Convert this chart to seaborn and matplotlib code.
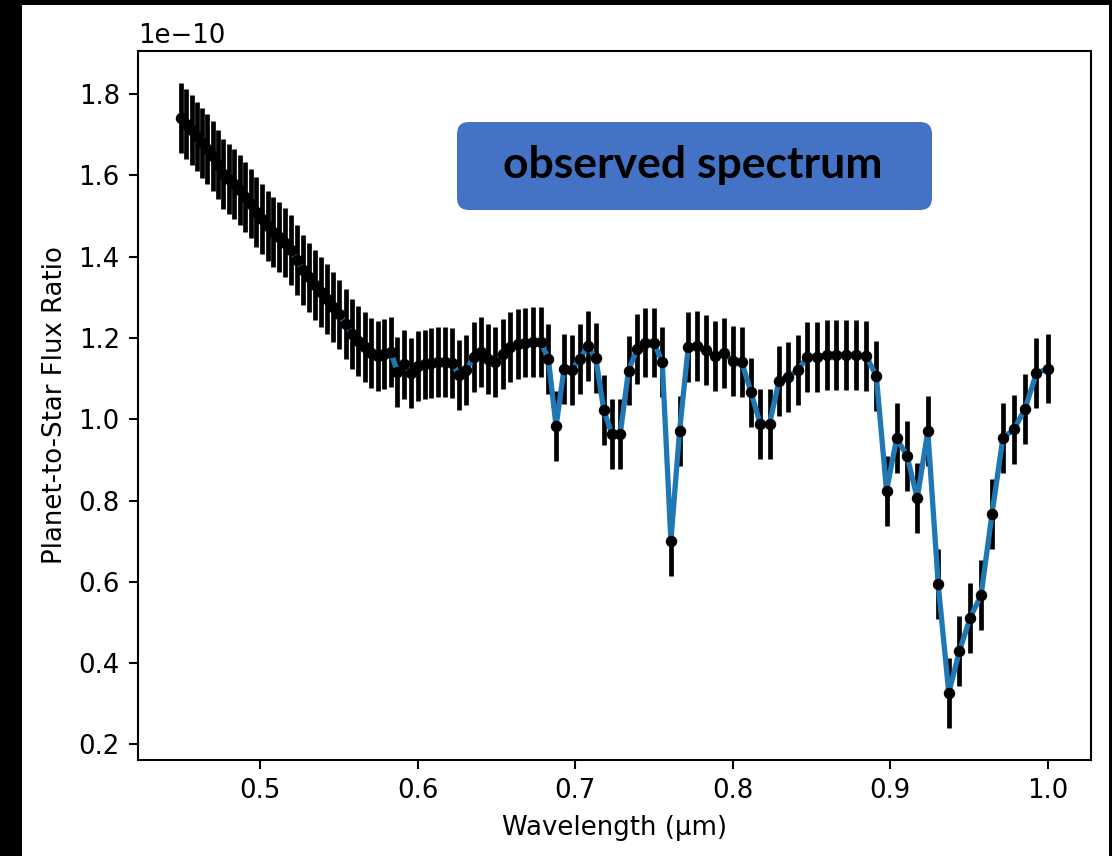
import matplotlib
matplotlib.use("Agg")
import matplotlib.pyplot as plt
from matplotlib.patches import Rectangle, FancyBboxPatch
from matplotlib.transforms import IdentityTransform
import numpy as np
import pandas as pd
import seaborn as sns

# ---------------- data (flux ratio in units of 1e-10) ----------------
wavelength = [
    0.4500, 0.4532, 0.4565, 0.4598, 0.4631, 0.4665, 0.4698, 0.4732, 0.4767, 0.4801,
    0.4836, 0.4871, 0.4906, 0.4941, 0.4977, 0.5013, 0.5049, 0.5085, 0.5122, 0.5159,
    0.5196, 0.5234, 0.5272, 0.5310, 0.5348, 0.5387, 0.5425, 0.5465, 0.5504, 0.5544,
    0.5584, 0.5624, 0.5665, 0.5706, 0.5747, 0.5788, 0.5830, 0.5872, 0.5915, 0.5957,
    0.6000, 0.6044, 0.6087, 0.6131, 0.6175, 0.6220, 0.6265, 0.6310, 0.6356, 0.6402,
    0.6448, 0.6494, 0.6541, 0.6588, 0.6636, 0.6684, 0.6732, 0.6781, 0.6830, 0.6879,
    0.6929, 0.6979, 0.7029, 0.7080, 0.7131, 0.7182, 0.7234, 0.7286, 0.7339, 0.7392,
    0.7445, 0.7499, 0.7553, 0.7608, 0.7663, 0.7718, 0.7774, 0.7830, 0.7886, 0.7943,
    0.8001, 0.8058, 0.8117, 0.8175, 0.8234, 0.8294, 0.8353, 0.8414, 0.8475, 0.8536,
    0.8597, 0.8659, 0.8722, 0.8785, 0.8848, 0.8912, 0.8977, 0.9041, 0.9107, 0.9172,
    0.9239, 0.9305, 0.9372, 0.9440, 0.9508, 0.9577, 0.9646, 0.9716, 0.9786, 0.9856,
    0.9928, 1.0000,
]
flux_ratio = [
    1.741, 1.726, 1.712, 1.696, 1.681, 1.666, 1.649, 1.627, 1.604, 1.591,
    1.580, 1.564, 1.548, 1.531, 1.511, 1.493, 1.476, 1.460, 1.449, 1.435,
    1.417, 1.392, 1.368, 1.349, 1.331, 1.313, 1.295, 1.277, 1.258, 1.234,
    1.209, 1.192, 1.177, 1.163, 1.155, 1.160, 1.165, 1.117, 1.135, 1.113,
    1.131, 1.135, 1.138, 1.140, 1.141, 1.138, 1.108, 1.121, 1.154, 1.166,
    1.149, 1.140, 1.160, 1.177, 1.185, 1.189, 1.190, 1.191, 1.149, 0.983,
    1.123, 1.122, 1.148, 1.180, 1.151, 1.023, 0.963, 0.963, 1.120, 1.172,
    1.189, 1.189, 1.142, 0.701, 0.971, 1.178, 1.181, 1.170, 1.156, 1.163,
    1.144, 1.141, 1.066, 0.989, 0.989, 1.094, 1.105, 1.121, 1.154, 1.154,
    1.158, 1.158, 1.158, 1.158, 1.155, 1.107, 0.824, 0.953, 0.910, 0.806,
    0.971, 0.594, 0.327, 0.430, 0.512, 0.567, 0.766, 0.955, 0.975, 1.026,
    1.113, 1.125,
]
flux_err = 0.086          # same uncertainty on every point (1e-10 units)
scale_exp = 1e-10

x_ticks = [0.5, 0.6, 0.7, 0.8, 0.9, 1.0]
y_ticks = [0.2, 0.4, 0.6, 0.8, 1.0, 1.2, 1.4, 1.6, 1.8]

x_label = "Wavelength (μm)"
y_label = "Planet-to-Star Flux Ratio"
banner_text = "observed spectrum"

# ---------------- style ----------------
S = 1.87
plt.rcParams.update({
    "font.family": ["DejaVu Sans"],
    "font.size": 10 * S,
    "axes.linewidth": 0.8 * S,
    "xtick.major.size": 3.5 * S,
    "ytick.major.size": 3.5 * S,
    "xtick.major.width": 0.8 * S,
    "ytick.major.width": 0.8 * S,
    "xtick.major.pad": 3.5 * S,
    "ytick.major.pad": 3.5 * S,
    "axes.labelpad": 4.0 * S,
})

W, H = 1112, 856
fig = plt.figure(figsize=(W / 100, H / 100), dpi=100, facecolor="black")
# white page inside the black screenshot frame
fig.patches.append(Rectangle((22 / W, 0), 1087 / W, 851 / H,
                             transform=fig.transFigure, facecolor="white",
                             edgecolor="none", zorder=-10))

ax = fig.add_axes([138 / W, (H - 760) / H, (1091 - 138) / W, (760 - 51) / H])
ax.set_facecolor("white")
ax.yaxis.OFFSETTEXTPAD = 3 * S

df = pd.DataFrame({"wl": wavelength,
                   "flux": np.array(flux_ratio) * scale_exp})

ax.errorbar(df["wl"], df["flux"], yerr=flux_err * scale_exp, fmt="none",
            ecolor="black", elinewidth=3.4, zorder=2)
sns.lineplot(data=df, x="wl", y="flux", ax=ax, color="#1f77b4",
             linewidth=3.8, zorder=3, sort=False)
sns.scatterplot(data=df, x="wl", y="flux", ax=ax, color="black", s=68,
                linewidth=0, zorder=4)

ax.set_xticks(x_ticks)
ax.set_yticks([v * scale_exp for v in y_ticks])
ax.set_xlabel(x_label)
ax.set_ylabel(y_label)

# blue banner
fig.patches.append(FancyBboxPatch((457, H - 210), 475, 88,
                                  boxstyle="round,pad=0,rounding_size=12",
                                  transform=IdentityTransform(),
                                  facecolor="#4472C4", edgecolor="none",
                                  zorder=5))
fig.text(692.5 / W, (H - 178) / H, banner_text, ha="center", va="baseline",
         fontsize=32, fontweight="bold", color="black",
         family=["Lato", "DejaVu Sans"], zorder=6)

fig.savefig("out.png", dpi=100)
